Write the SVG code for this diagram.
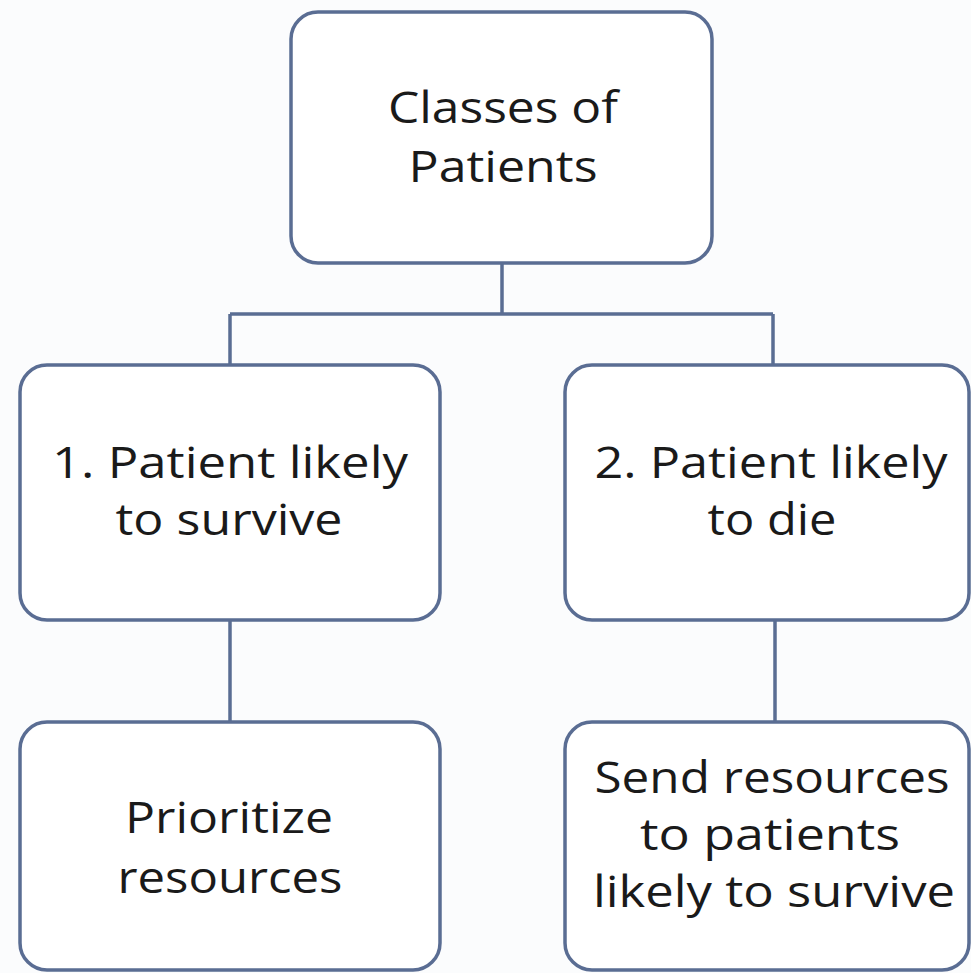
<svg xmlns="http://www.w3.org/2000/svg" width="971" height="973" viewBox="0 0 971 973">
<style>
.box{fill:#fff;stroke:#5a6d93;stroke-width:3.5}
.conn{fill:none;stroke:#5a6d93;stroke-width:3.5}
text{font-family:"Open Sans","Liberation Sans",sans-serif;font-size:43px;fill:#1a1a1a;text-anchor:middle}
</style>
<rect width="971" height="973" fill="#fbfcfd"/>
<g id="connectors">
<path class="conn" d="M502 263V314M230 314H773M230 314V365M773 314V365"/>
<path class="conn" d="M230 620V722M775 620V722"/>
</g>
<g id="root">
<rect class="box" x="291" y="12" width="421" height="251" rx="27"/>
<text x="503" y="123" textLength="230" lengthAdjust="spacingAndGlyphs">Classes of</text>
<text x="503" y="182" textLength="189" lengthAdjust="spacingAndGlyphs">Patients</text>
</g>
<g id="survive">
<rect class="box" x="20" y="365" width="420" height="255" rx="27"/>
<text x="230" y="478" textLength="356" lengthAdjust="spacingAndGlyphs">1. Patient likely</text>
<text x="229" y="535" textLength="227" lengthAdjust="spacingAndGlyphs">to survive</text>
</g>
<g id="die">
<rect class="box" x="565" y="365" width="404" height="255" rx="27"/>
<text x="771" y="478" textLength="353" lengthAdjust="spacingAndGlyphs">2. Patient likely</text>
<text x="772" y="535" textLength="129" lengthAdjust="spacingAndGlyphs">to die</text>
</g>
<g id="prioritize">
<rect class="box" x="20" y="722" width="420" height="248" rx="27"/>
<text x="229" y="833" textLength="208" lengthAdjust="spacingAndGlyphs">Prioritize</text>
<text x="230" y="893" textLength="225" lengthAdjust="spacingAndGlyphs">resources</text>
</g>
<g id="send">
<rect class="box" x="565" y="722" width="404" height="248" rx="27"/>
<text x="772" y="793" textLength="355" lengthAdjust="spacingAndGlyphs">Send resources</text>
<text x="770" y="850" textLength="260" lengthAdjust="spacingAndGlyphs">to patients</text>
<text x="774" y="907" textLength="362" lengthAdjust="spacingAndGlyphs">likely to survive</text>
</g>
</svg>
